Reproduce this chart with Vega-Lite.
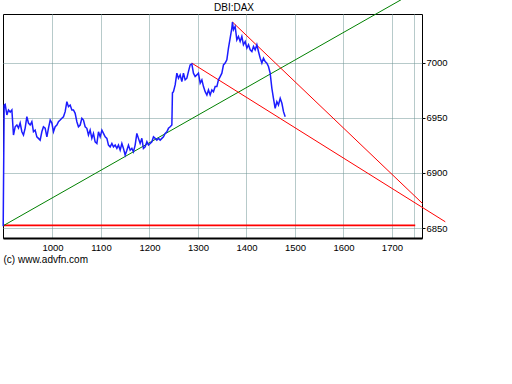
{
  "$schema": "https://vega.github.io/schema/vega-lite/v6.json",
  "width": 419,
  "height": 224,
  "autosize": {"type": "none"},
  "padding": {"left": 3, "top": 14, "right": 90, "bottom": 146},
  "background": "white",
  "config": {
    "view": {"stroke": "black", "strokeWidth": 1},
    "axis": {"labelFont": "Liberation Sans", "labelFontSize": 9.5, "labelColor": "black", "gridColor": "#6f9595", "gridDash": [1, 1], "gridOpacity": 1, "gridWidth": 1}
  },
  "resolve": {"axis": {"x": "independent"}},
  "datasets": {
    "price": [
      {"x": 898.4, "y": 6851.6}, {"x": 900.4, "y": 6961.5}, {"x": 902.5, "y": 6962.2}, {"x": 906, "y": 6952.5}, {"x": 909.3, "y": 6957}, {"x": 912.8, "y": 6955.2}, {"x": 916.3, "y": 6957}, {"x": 919.6, "y": 6934.3}, {"x": 923.1, "y": 6941.8}, {"x": 926.6, "y": 6943.4}, {"x": 929.9, "y": 6940.6}, {"x": 933.4, "y": 6945.2}, {"x": 936.9, "y": 6937.3}, {"x": 940.2, "y": 6934.3}, {"x": 943.7, "y": 6940.6}, {"x": 947.2, "y": 6950.9}, {"x": 950.5, "y": 6945.2}, {"x": 954, "y": 6943.4}, {"x": 957.5, "y": 6946.4}, {"x": 960.8, "y": 6937.3}, {"x": 964.3, "y": 6938.8}, {"x": 967.8, "y": 6932.7}, {"x": 971.1, "y": 6931.3}, {"x": 974.6, "y": 6929.7}, {"x": 978.1, "y": 6937.3}, {"x": 981.4, "y": 6941.8}, {"x": 984.9, "y": 6940.6}, {"x": 988.5, "y": 6932.7}, {"x": 991.8, "y": 6940.6}, {"x": 995.3, "y": 6947.9}, {"x": 998.8, "y": 6945.2}, {"x": 1002.1, "y": 6937.3}, {"x": 1005.6, "y": 6941.8}, {"x": 1009.1, "y": 6943.4}, {"x": 1012.4, "y": 6946.4}, {"x": 1015.9, "y": 6947.9}, {"x": 1019.4, "y": 6949.5}, {"x": 1022.7, "y": 6950.9}, {"x": 1026.2, "y": 6955.5}, {"x": 1029.7, "y": 6964.5}, {"x": 1033, "y": 6960}, {"x": 1036.5, "y": 6961.5}, {"x": 1040, "y": 6957}, {"x": 1043.3, "y": 6957}, {"x": 1046.8, "y": 6954}, {"x": 1050.3, "y": 6946.4}, {"x": 1053.6, "y": 6941.8}, {"x": 1057.1, "y": 6943.4}, {"x": 1060.6, "y": 6949.5}, {"x": 1063.9, "y": 6947.9}, {"x": 1067.4, "y": 6941.8}, {"x": 1070.9, "y": 6940.4}, {"x": 1074.2, "y": 6934.3}, {"x": 1077.7, "y": 6938.8}, {"x": 1081.2, "y": 6931.3}, {"x": 1084.5, "y": 6935.8}, {"x": 1088, "y": 6928.2}, {"x": 1091.6, "y": 6926.7}, {"x": 1094.9, "y": 6937.3}, {"x": 1098.4, "y": 6932.7}, {"x": 1101.9, "y": 6938.8}, {"x": 1105.2, "y": 6935.8}, {"x": 1108.7, "y": 6932.7}, {"x": 1112.2, "y": 6931.3}, {"x": 1115.5, "y": 6925.2}, {"x": 1119, "y": 6923.6}, {"x": 1122.5, "y": 6926.7}, {"x": 1125.8, "y": 6923.6}, {"x": 1129.3, "y": 6925.2}, {"x": 1132.8, "y": 6922.2}, {"x": 1136.1, "y": 6925.2}, {"x": 1139.6, "y": 6920.6}, {"x": 1143.1, "y": 6926.7}, {"x": 1146.4, "y": 6922.2}, {"x": 1149.9, "y": 6916.1}, {"x": 1153.4, "y": 6920.6}, {"x": 1156.7, "y": 6925.2}, {"x": 1160.2, "y": 6920.6}, {"x": 1163.7, "y": 6922.2}, {"x": 1167, "y": 6919.1}, {"x": 1170.5, "y": 6925.2}, {"x": 1174, "y": 6935.8}, {"x": 1177.3, "y": 6931.3}, {"x": 1180.8, "y": 6926.7}, {"x": 1184.3, "y": 6931.3}, {"x": 1187.6, "y": 6922.2}, {"x": 1191.1, "y": 6923.6}, {"x": 1194.7, "y": 6928.2}, {"x": 1198, "y": 6925.2}, {"x": 1201.5, "y": 6926.7}, {"x": 1205, "y": 6928.2}, {"x": 1208.3, "y": 6932.7}, {"x": 1211.8, "y": 6931.3}, {"x": 1215.3, "y": 6929.7}, {"x": 1218.6, "y": 6931.3}, {"x": 1222.1, "y": 6929.7}, {"x": 1225.6, "y": 6931.3}, {"x": 1228.9, "y": 6932.7}, {"x": 1232.4, "y": 6935.8}, {"x": 1235.9, "y": 6937.3}, {"x": 1239.2, "y": 6940.4}, {"x": 1242.7, "y": 6941.8}, {"x": 1246.2, "y": 6943.4}, {"x": 1247.4, "y": 6972.5}, {"x": 1249.5, "y": 6973.6}, {"x": 1253, "y": 6979.7}, {"x": 1256.5, "y": 6990.4}, {"x": 1259.8, "y": 6985.8}, {"x": 1263.3, "y": 6988.8}, {"x": 1266.8, "y": 6982.7}, {"x": 1270.1, "y": 6990.4}, {"x": 1273.6, "y": 6984.3}, {"x": 1277.1, "y": 6985.8}, {"x": 1280.4, "y": 6991.8}, {"x": 1283.9, "y": 6997.9}, {"x": 1287.4, "y": 6998.8}, {"x": 1290.7, "y": 6990.4}, {"x": 1294.2, "y": 6987.3}, {"x": 1297.7, "y": 6988.8}, {"x": 1301, "y": 6990.4}, {"x": 1304.6, "y": 6981.3}, {"x": 1308.1, "y": 6984.3}, {"x": 1311.4, "y": 6978.2}, {"x": 1314.9, "y": 6973.6}, {"x": 1318.4, "y": 6970.6}, {"x": 1321.7, "y": 6975.2}, {"x": 1325.2, "y": 6970.6}, {"x": 1328.7, "y": 6975.2}, {"x": 1332, "y": 6973.6}, {"x": 1335.5, "y": 6978.2}, {"x": 1339, "y": 6978.2}, {"x": 1342.3, "y": 6984.3}, {"x": 1345.8, "y": 6987.3}, {"x": 1349.3, "y": 6990.4}, {"x": 1352.6, "y": 6997.9}, {"x": 1356.1, "y": 6999.5}, {"x": 1359.6, "y": 7002.5}, {"x": 1362.9, "y": 7013.1}, {"x": 1366.4, "y": 7022.2}, {"x": 1369.9, "y": 7031.3}, {"x": 1371.2, "y": 7036.7}, {"x": 1373.2, "y": 7029.7}, {"x": 1376.7, "y": 7032.7}, {"x": 1380.2, "y": 7020.6}, {"x": 1383.5, "y": 7023.6}, {"x": 1387, "y": 7019.1}, {"x": 1390.5, "y": 7023.6}, {"x": 1393.8, "y": 7016.1}, {"x": 1397.4, "y": 7019.1}, {"x": 1400.9, "y": 7013.1}, {"x": 1404.2, "y": 7016.1}, {"x": 1407.7, "y": 7011.5}, {"x": 1411.2, "y": 7010}, {"x": 1414.5, "y": 7014.5}, {"x": 1418, "y": 7011.5}, {"x": 1421.5, "y": 7016.1}, {"x": 1424.8, "y": 7010}, {"x": 1428.3, "y": 7004}, {"x": 1431.8, "y": 6999.5}, {"x": 1435.1, "y": 7004}, {"x": 1438.6, "y": 7000.9}, {"x": 1442.1, "y": 6999.5}, {"x": 1445.4, "y": 6996.4}, {"x": 1448.9, "y": 6990.4}, {"x": 1452.4, "y": 6976.7}, {"x": 1455.7, "y": 6967.6}, {"x": 1459.2, "y": 6958.5}, {"x": 1462.7, "y": 6964.5}, {"x": 1466, "y": 6961.5}, {"x": 1469.6, "y": 6967.6}, {"x": 1473.1, "y": 6963.1}, {"x": 1476.4, "y": 6955.5}, {"x": 1479.9, "y": 6950.9}
    ],
    "trend": [
      {"line": "g", "x": 898.4, "y": 6852.1}, {"line": "g", "x": 1730, "y": 7059.7},
      {"line": "ra", "x": 1370.9, "y": 7036.8}, {"line": "ra", "x": 1763, "y": 6872.3},
      {"line": "rb", "x": 1287.2, "y": 6999.5}, {"line": "rb", "x": 1810, "y": 6855.7}
    ],
    "support": [
      {"x": 898, "y": 6852.4}, {"x": 1748, "y": 6852.4}
    ]
  },
  "layer": [
    {
      "data": {"name": "support"},
      "mark": {"type": "line", "clip": false, "color": "#ff0000", "strokeWidth": 1.6},
      "encoding": {
        "x": {"field": "x", "type": "quantitative", "scale": {"domain": [898, 1762], "nice": false, "zero": false},
          "axis": {"orient": "bottom", "values": [1000, 1100, 1200, 1300, 1400, 1500, 1600, 1700, 1746], "labelExpr": "datum.value == 1746 ? '' : datum.label", "format": "d", "ticks": false, "labelPadding": 4, "domainColor": "black", "domainWidth": 2, "grid": true,
            "title": "(c) www.advfn.com", "titleAnchor": "start", "titleAlign": "left", "titleFont": "Liberation Sans", "titleFontSize": 10, "titleFontWeight": "normal", "titleColor": "black", "titlePadding": 3}},
        "y": {"field": "y", "type": "quantitative", "scale": {"domain": [6841, 7044], "nice": false, "zero": false},
          "axis": {"orient": "right", "values": [6850, 6900, 6950, 7000], "format": "d", "tickSize": 3, "tickColor": "black", "labelPadding": 1, "domain": false, "grid": true, "title": null}}
      }
    },
    {
      "data": {"name": "trend"},
      "mark": {"type": "line", "clip": false, "strokeWidth": 1},
      "encoding": {
        "x": {"field": "x", "type": "quantitative",
          "axis": {"orient": "top", "labels": false, "ticks": false, "domain": false, "grid": false,
            "title": "DBI:DAX", "titleX": 230.5, "titleAlign": "center", "titleAnchor": null, "titleFont": "Liberation Sans", "titleFontSize": 10, "titleFontWeight": "normal", "titleColor": "black", "titlePadding": 2}},
        "y": {"field": "y", "type": "quantitative"},
        "detail": {"field": "line"},
        "color": {"field": "line", "type": "nominal", "scale": {"domain": ["g", "ra", "rb"], "range": ["#008000", "#ff0000", "#ff0000"]}, "legend": null}
      }
    },
    {
      "data": {"name": "price"},
      "mark": {"type": "line", "color": "#1c1cff", "strokeWidth": 1.5, "clip": false},
      "encoding": {
        "x": {"field": "x", "type": "quantitative", "axis": null},
        "y": {"field": "y", "type": "quantitative"}
      }
    }
  ]
}
